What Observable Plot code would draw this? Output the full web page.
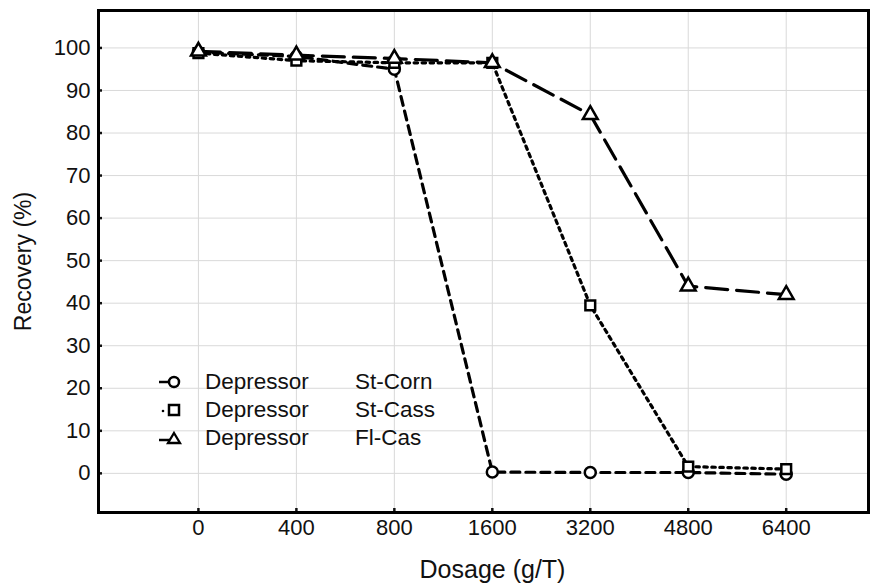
<!DOCTYPE html>
<html>
<head>
<meta charset="utf-8">
<script src="https://cdn.jsdelivr.net/npm/d3@7"></script>
<script src="https://cdn.jsdelivr.net/npm/@observablehq/plot@0.6"></script>
<style>
  body { margin: 0; background: #fff; font-family: "Liberation Sans", Arial, sans-serif; }
  #wrap { position: relative; width: 872px; height: 584px; }
  #wrap svg text { fill: #111; }
  #wrap svg g[aria-label="x-axis tick label"] text, #wrap svg g[aria-label="y-axis tick label"] text { font-size: 22px; }
  #wrap svg g[aria-label="y-axis label"] text { font-size: 23px; }
  #legend { position: absolute; left: 155px; top: 368px; font-size: 22.5px; color: #111; }
  .row { display: flex; align-items: center; height: 28px; }
  .row svg { width: 40px; height: 20px; }
  .row .a { width: 150px; margin-left: 10px; }
</style>
</head>
<body>
<div id="wrap"><div id="legend"></div></div>
<script>
const doses = ["0", "400", "800", "1600", "3200", "4800", "6400"];
const seriesNames = ["St-Corn", "St-Cass", "Fl-Cas"];
const stCorn = [99, 98, 95, 0.3, 0.2, 0.2, -0.2];
const stCass = [98.8, 97, 96.5, 96.5, 39.5, 1.6, 1.0];
const flCas = [99.2, 98.3, 97.5, 96.5, 84.3, 44, 42];
const symbols = ["circle", "square", "triangle"];
const dashes = ["9,6", "3.5,4.5", "22,9"];

const valueSets = [stCorn, stCass, flCas];
const data = [];
valueSets.forEach((vals, s) => vals.forEach((v, i) => data.push({i, v, s: seriesNames[s]})));

const chart = Plot.plot({
  width: 872, height: 584,
  marginLeft: 98, marginRight: 4, marginTop: 10, marginBottom: 72,
  style: {fontFamily: "Liberation Sans, Arial, sans-serif", fontSize: "22px", color: "#111", background: "transparent"},
  x: {domain: [-1.02, 6.84]},
  y: {domain: [-9.2, 108.8]},
  symbol: {domain: seriesNames, range: symbols},
  marks: [
    Plot.gridX(d3.range(7), {stroke: "#d9d9d9", strokeOpacity: 1}),
    Plot.gridY(d3.range(0, 101, 10), {stroke: "#d9d9d9", strokeOpacity: 1}),
    ...seriesNames.map((name, s) => Plot.line(data.filter(d => d.s === name), {
      x: "i", y: "v", stroke: "#000", strokeWidth: 3.2, strokeDasharray: dashes[s]
    })),
    Plot.dot(data, {x: "i", y: "v", symbol: "s", r: 5.5, stroke: "#000", strokeWidth: 2.5, fill: "#fff"}),
    Plot.axisX(d3.range(7), {tickSize: -4, text: null, strokeWidth: 2.5, label: null}),
    Plot.axisX(d3.range(7), {tickSize: 0, tickPadding: 7, tickFormat: i => doses[i], label: null}),
    Plot.axisY(d3.range(0, 101, 10), {tickSize: -4, text: null, strokeWidth: 2.5, label: null}),
    Plot.axisY(d3.range(0, 101, 10), {tickSize: 0, tickPadding: 8,
      label: "Recovery (%)", labelAnchor: "center", labelOffset: 84, labelArrow: "none"}),
    Plot.text(["Dosage (g/T)"], {frameAnchor: "bottom", dy: 65, dx: 9, fontSize: 25, text: d => d, fill: "#111"}),
    Plot.frame({stroke: "#000", strokeWidth: 3})
  ]
});
document.getElementById("wrap").prepend(chart);

const legend = document.getElementById("legend");
const legendSvg = [
  `<svg viewBox="0 0 40 20"><line x1="4" y1="10" x2="18" y2="10" stroke="#000" stroke-width="2.5"/><circle cx="19" cy="10" r="5" fill="#fff" stroke="#000" stroke-width="2.5"/></svg>`,
  `<svg viewBox="0 0 40 20"><circle cx="8" cy="11" r="1.3" fill="#000"/><rect x="14" y="5" width="10" height="10" fill="#fff" stroke="#000" stroke-width="2.5"/></svg>`,
  `<svg viewBox="0 0 40 20"><line x1="4" y1="12" x2="20" y2="12" stroke="#000" stroke-width="2.5"/><path d="M19,5 L25,15 L13,15 Z" fill="#fff" stroke="#000" stroke-width="2.3"/></svg>`
];
seriesNames.forEach((name, s) => {
  const row = document.createElement("div");
  row.className = "row";
  row.innerHTML = legendSvg[s] + `<span class="a">Depressor</span><span>${name}</span>`;
  legend.appendChild(row);
});
</script>
</body>
</html>
